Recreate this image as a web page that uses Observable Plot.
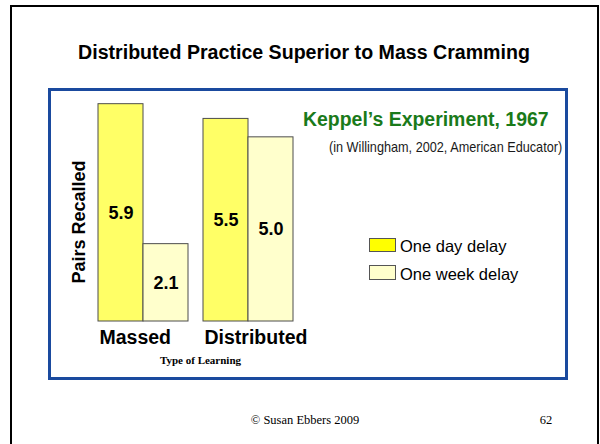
<!DOCTYPE html>
<html>
<head>
<meta charset="utf-8">
<script src="https://cdn.jsdelivr.net/npm/d3@7"></script>
<script src="https://cdn.jsdelivr.net/npm/@observablehq/plot@0.6"></script>
<style>
  html, body { margin: 0; padding: 0; background: #fff; }
  #page { position: relative; width: 600px; height: 444px; overflow: hidden; background: #fff;
          font-family: "Liberation Sans", Arial, sans-serif; }
  .abs { position: absolute; white-space: nowrap; line-height: 1; }
  #frame { position: absolute; left: 10px; top: 5px; width: 589px; height: 500px;
           border: 2px solid #000; box-sizing: border-box; }
  #bluebox { position: absolute; left: 48px; top: 88px; width: 520px; height: 292px;
             border: 3px solid #1a4a9e; box-sizing: border-box; }
  #chart svg { position: absolute; left: 0; top: 0; }
  .swatch { position: absolute; width: 27px; border: 1px solid #555; box-sizing: border-box; }
</style>
</head>
<body>
<div id="page">
  <div id="frame"></div>
  <div id="bluebox"></div>
  <div id="chart"></div>
  <div class="abs" id="title" style="left:10px;width:588px;top:43px;text-align:center;font-weight:bold;font-size:19.6px;color:#000;"></div>
  <div class="abs" id="heading" style="left:303px;top:110px;font-weight:bold;font-size:19.45px;color:#1a7a1a;"></div>
  <div class="abs" id="subheading" style="left:329px;top:139px;font-size:15px;color:#1a1a1a;transform:scaleX(0.845);transform-origin:0 0;"></div>
  <div id="legend"></div>
  <div class="abs" id="footer" style="left:205px;width:200px;top:414px;text-align:center;font-family:'Liberation Serif','Times New Roman',serif;font-size:12.5px;color:#000;"></div>
  <div class="abs" id="pagenum" style="left:526px;width:40px;top:414px;text-align:center;font-family:'Liberation Serif','Times New Roman',serif;font-size:12.5px;color:#000;"></div>
</div>
<script>
// ---- data ----
const categories = ["Massed", "Distributed"];
const series = ["One day delay", "One week delay"];
const oneDayDelay = [5.9, 5.5];
const oneWeekDelay = [2.1, 5.0];
const yDomain = [0, 6];
const barColors = ["#FFFF66", "#FFFFCC"];
const swatchColors = ["#FFFF00", "#FFFFCC"];
const titleText = "Distributed Practice Superior to Mass Cramming";
const headingText = "Keppel\u2019s Experiment, 1967";
const subheadingText = "(in Willingham, 2002, American Educator)";
const yLabel = "Pairs Recalled";
const xLabel = "Type of Learning";
const footerText = "\u00A9 Susan Ebbers 2009";
const pageNumber = "62";

// ---- table ----
const data = categories.flatMap((c, i) => [
  {category: c, series: series[0], value: oneDayDelay[i]},
  {category: c, series: series[1], value: oneWeekDelay[i]}
]);

const chart = Plot.plot({
  width: 600,
  height: 444,
  marginLeft: 96,
  marginRight: 306,
  marginTop: 100,
  marginBottom: 123,
  style: {background: "transparent", fontFamily: "'Liberation Sans', Arial, sans-serif", overflow: "visible", color: "#000"},
  fx: {domain: categories, paddingInner: 0.132, paddingOuter: 0, axis: null},
  x: {domain: series, padding: 0, axis: null},
  y: {domain: yDomain, axis: null},
  color: {domain: series, range: barColors},
  marks: [
    Plot.barY(data, {fx: "category", x: "series", y: "value", fill: "series", stroke: "#4d4d4d", strokeWidth: 1}),
    Plot.text(data, {fx: "category", x: "series", y: d => d.value / 2, text: d => d.value.toFixed(1),
      fontSize: 18, fontWeight: "bold", fill: "#000"}),
    Plot.text(categories, {fx: d => d, text: d => d, frameAnchor: "bottom-left", textAnchor: "start",
      lineAnchor: "middle", dx: 2, dy: 16, fontSize: 19.5, fontWeight: "bold", fill: "#000"}),
    Plot.text([yLabel], {facet: "super", frameAnchor: "left", rotate: -90, textAnchor: "middle",
      lineAnchor: "middle", dx: -18, dy: 11, fontSize: 18, fontWeight: "bold", fill: "#000"}),
    Plot.text([xLabel], {facet: "super", frameAnchor: "bottom", dx: 5, dy: 39, lineAnchor: "middle",
      fontSize: 11, fontWeight: "bold", fill: "#000", fontFamily: "'Liberation Serif', 'Times New Roman', serif"})
  ]
});
document.getElementById("chart").appendChild(chart);

document.getElementById("title").textContent = titleText;
document.getElementById("heading").textContent = headingText;
document.getElementById("subheading").textContent = subheadingText;
document.getElementById("footer").textContent = footerText;
document.getElementById("pagenum").textContent = pageNumber;

// legend
const legend = document.getElementById("legend");
const rows = [{top: 238, h: 14}, {top: 265, h: 15}];
series.forEach((s, i) => {
  const sw = document.createElement("div");
  sw.className = "swatch";
  sw.style.left = "369px";
  sw.style.top = rows[i].top + "px";
  sw.style.height = rows[i].h + "px";
  sw.style.background = swatchColors[i];
  legend.appendChild(sw);
  const t = document.createElement("div");
  t.className = "abs";
  t.style.left = "400px";
  t.style.top = (rows[i].top + rows[i].h - 14) + "px";
  t.style.fontSize = "16.5px";
  t.style.color = "#000";
  t.textContent = s;
  legend.appendChild(t);
});
</script>
</body>
</html>
